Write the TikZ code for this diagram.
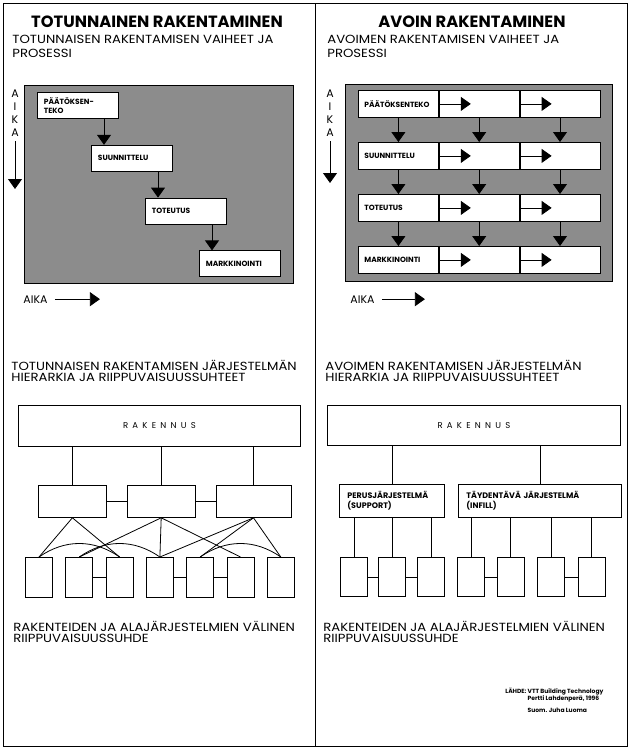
\documentclass[tikz,border=0pt]{standalone}
\usepackage{fontspec}
\setmainfont{Poppins}
\newfontfamily\headfont{Poppins}[FakeStretch=1.12]
\newcommand\stagefont{\bfseries\fontsize{7.5}{9}\selectfont}
\usetikzlibrary{arrows.meta, positioning}

\begin{document}
\begin{tikzpicture}[x=1pt, y=-1pt, line width=0.8pt,
		title/.style={anchor=base, font=\bfseries\fontsize{16.3}{18}\selectfont},
		heading/.style={anchor=base west, align=left, inner sep=0pt, font=\headfont\fontsize{11.8}{14}\selectfont},
		panel/.style={draw, fill=black!45, anchor=north west, inner sep=0pt},
		stage/.style={draw, fill=white, anchor=north west, text width=68pt, inner xsep=6.5pt, inner ysep=2pt,
			minimum height=26pt, align=left, font=\stagefont},
		cell/.style={draw, fill=white, minimum width=80pt, minimum height=27pt, inner sep=0pt},
		flow/.style={-{Triangle[length=10pt, width=14pt]}},
		timelabel/.style={font=\fontsize{11}{13}\selectfont, inner sep=0pt},
		rootbox/.style={draw, anchor=north west, minimum height=41pt,
			font=\addfontfeature{LetterSpace=50}\fontsize{8.5}{10}\selectfont},
		module/.style={draw, anchor=north west, minimum width=68pt, minimum height=32pt},
		subsystem/.style={draw, anchor=north west, minimum height=33pt, inner xsep=8pt, align=left,
			font=\bfseries\fontsize{8}{9.5}\selectfont},
		unit/.style={draw, anchor=north, minimum width=27pt, minimum height=40pt, inner sep=0pt},
		credit/.style={anchor=base west, align=left, inner sep=0pt, font=\bfseries\fontsize{6}{7.5}\selectfont},
		]
		\useasboundingbox (0,0) rectangle (630,750);

		% Frame
		\draw (3,3) rectangle (627,746);
		\draw (315,3) -- (315,746);

		% Titles
		\node[title] (tradtitle) at (157,27) {TOTUNNAINEN RAKENTAMINEN};
		\node[title] (opentitle) at (472,27) {AVOIN RAKENTAMINEN};

		% Process headings
		\node[heading] (tradproc) at (12,57) {TOTUNNAISEN RAKENTAMISEN VAIHEET JA\\PROSESSI};
		\node[heading] (openproc) at (327,57) {AVOIMEN RAKENTAMISEN VAIHEET JA\\PROSESSI};

		% Grey panels
		\node[panel, minimum width=269pt, minimum height=198pt] (tradpanel) at (24,85) {};
		\node[panel, minimum width=267pt, minimum height=197pt] (openpanel) at (345,84) {};

		% Traditional stages
		\node[stage] (tdecide) at (37,92) {PÄÄTÖKSEN-\\TEKO};
		\node[stage, below right=26pt and 54pt of tdecide.south west] (tdesign) {SUUNNITTELU};
		\node[stage, below right=26pt and 54pt of tdesign.south west] (tbuild) {TOTEUTUS};
		\node[stage, below right=26pt and 54pt of tbuild.south west] (tmarket) {MARKKINOINTI};

		\draw[flow] ([xshift=13pt]tdesign.north west |- tdecide.south) -- ([xshift=13pt]tdesign.north west);
		\draw[flow] ([xshift=13pt]tbuild.north west |- tdesign.south) -- ([xshift=13pt]tbuild.north west);
		\draw[flow] ([xshift=13pt]tmarket.north west |- tbuild.south) -- ([xshift=13pt]tmarket.north west);

		% Open stages
		\foreach \txt [count=\i] in {PÄÄTÖKSENTEKO, SUUNNITTELU, TOTEUTUS, MARKKINOINTI} {
			\node[cell, anchor=north west, text width=68pt, inner xsep=6pt, align=left, font=\stagefont]
				(o\i-1) at (358,{90+52*(\i-1)}) {\txt};
			\node[cell, right=0pt of o\i-1] (o\i-2) {};
			\node[cell, right=0pt of o\i-2] (o\i-3) {};
			\draw[flow] (o\i-2.west) -- ([xshift=32pt]o\i-2.west);
			\draw[flow] (o\i-3.west) -- ([xshift=32pt]o\i-3.west);
		}
		\foreach \i/\j in {1/2, 2/3, 3/4}
			\foreach \c in {1, 2, 3}
				\draw[flow] (o\i-\c.south) -- (o\j-\c.north);

		% Time axes
		\node[timelabel, align=center, anchor=north] (tradaxis) at (15,89) {A\\I\\K\\A};
		\coordinate (tradaxisend) at (15,189);
		\draw[flow] ([yshift=-5pt]tradaxis.south) -- (tradaxisend);
		\node[timelabel, anchor=base west] (tradtime) at (23,303) {AIKA};
		\draw[flow] ([xshift=7pt]tradtime.east) -- ([xshift=52pt]tradtime.east);

		\node[timelabel, align=center, anchor=north] (openaxis) at (330,89) {A\\I\\K\\A};
		\coordinate (openaxisend) at (330,183);
		\draw[flow] ([yshift=-5pt]openaxis.south) -- (openaxisend);
		\node[timelabel, anchor=base west] (opentime) at (350,303) {AIKA};
		\draw[flow] ([xshift=7pt]opentime.east) -- ([xshift=50pt]opentime.east);

		% Hierarchy headings
		\node[heading, font=\headfont\fontsize{11.8}{10.5}\selectfont] (tradhier) at (11,381)
			{TOTUNNAISEN RAKENTAMISEN JÄRJESTELMÄN\\HIERARKIA JA RIIPPUVAISUUSSUHTEET};
		\node[heading, font=\headfont\fontsize{11.8}{10.5}\selectfont] (openhier) at (325,381)
			{AVOIMEN RAKENTAMISEN JÄRJESTELMÄN\\HIERARKIA JA RIIPPUVAISUUSSUHTEET};

		% Traditional hierarchy
		\node[rootbox, minimum width=282pt] (tradroot) at (18,405) {RAKENNUS};
		\node[module] (tm1) at (38,485) {};
		\node[module, right=20pt of tm1] (tm2) {};
		\node[module, right=20pt of tm2, minimum width=75pt] (tm3) {};
		\foreach \k in {1,...,7}
			\node[unit] (tu\k) at ({39+40.3*(\k-1)},557) {};

		\foreach \m in {tm1, tm2, tm3}
			\draw (tradroot.south -| \m) -- (\m);
		\draw (tm1) -- (tm2);
		\draw (tm2) -- (tm3);
		\draw (tu2) -- (tu3);
		\draw (tu4) -- (tu5);
		\draw (tu5) -- (tu6);
		\foreach \m/\u in {tm1/tu1, tm1/tu3, tm2/tu2, tm2/tu4, tm2/tu6, tm3/tu4, tm3/tu5, tm3/tu7}
			\draw (\m.south) -- (\u.north);
		\foreach \a/\b in {tu1/tu3, tu2/tu4, tu5/tu7}
			\draw (\a.north) to[bend left=35] (\b.north);

		% Open hierarchy
		\node[rootbox, minimum width=293pt, minimum height=40pt] (openroot) at (327,405) {RAKENNUS};
		\node[subsystem, text width=89pt] (support) at (339,484) {PERUSJÄRJESTELMÄ\\(SUPPORT)};
		\node[subsystem, text width=147pt] (infill) at (458,484) {TÄYDENTÄVÄ JÄRJESTELMÄ\\(INFILL)};
		\foreach \k/\x in {1/354, 2/392, 3/431, 4/471, 5/510.5, 6/551, 7/591.5}
			\node[unit, minimum height=39pt] (ou\k) at (\x,557) {};

		\draw (openroot.south -| support) -- (support);
		\draw (openroot.south -| infill) -- (infill);
		\foreach \u in {ou1, ou2, ou3}
			\draw (support.south -| \u) -- (\u);
		\foreach \u in {ou4, ou5, ou6, ou7}
			\draw (infill.south -| \u) -- (\u);
		\draw (ou1) -- (ou2);
		\draw (ou2) -- (ou3);
		\draw (ou4) -- (ou5);
		\draw (ou6) -- (ou7);

		% Dependency headings
		\node[heading, font=\headfont\fontsize{11.8}{11}\selectfont] (traddep) at (13,642)
			{RAKENTEIDEN JA ALAJÄRJESTELMIEN VÄLINEN\\RIIPPUVAISUUSSUHDE};
		\node[heading, font=\headfont\fontsize{11.8}{11}\selectfont] (opendep) at (323,642)
			{RAKENTEIDEN JA ALAJÄRJESTELMIEN VÄLINEN\\RIIPPUVAISUUSSUHDE};

		% Source
		\node[credit] (source) at (505,712) {LÄHDE: VTT Building Technology\\
			\hphantom{LÄHDE: }Pertti Lahdenperä, 1996\\[4pt]
			\hphantom{LÄHDE: }Suom. Juha Luoma};
	\end{tikzpicture}
\end{document}
